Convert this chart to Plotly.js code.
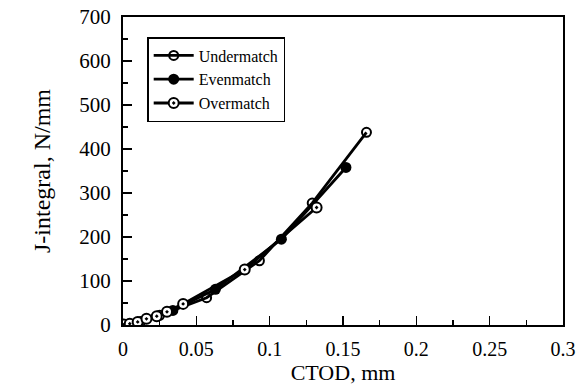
<!DOCTYPE html>
<html>
<head>
<meta charset="utf-8">
<script src="https://cdn.plot.ly/plotly-3.0.1.min.js"></script>
<style>html,body{margin:0;padding:0;background:#fff;}#chart{width:579px;height:385px;}</style>
</head>
<body>
<div id="chart"></div>
<script>
var seriesNames = ["Undermatch", "Evenmatch", "Overmatch"];
var underCTOD = [0, 0.012, 0.025, 0.057, 0.093, 0.129, 0.166];
var underJ    = [0, 8, 22, 62, 146, 277, 438];
var evenCTOD  = [0, 0.034, 0.063, 0.108, 0.152];
var evenJ     = [0, 33, 81, 195, 358];
var overCTOD  = [0.0005, 0.0046, 0.010, 0.016, 0.023, 0.030, 0.041, 0.083, 0.132];
var overJ     = [1, 3, 7, 14, 20, 30, 48, 126, 267];
var xTickVals = [0, 0.05, 0.1, 0.15, 0.2, 0.25, 0.3];
var xTickText = ["0", "0.05", "0.1", "0.15", "0.2", "0.25", "0.3"];
var yTickVals = [0, 100, 200, 300, 400, 500, 600, 700];

var font = "Liberation Serif, Times New Roman, serif";
var traces = [
  {x: underCTOD, y: underJ, name: seriesNames[0], mode: "lines+markers",
   line: {color: "#000", width: 2.8},
   marker: {symbol: "circle-open", size: 9, color: "#000", line: {width: 2, color: "#000"}}},
  {x: evenCTOD, y: evenJ, name: seriesNames[1], mode: "lines+markers",
   line: {color: "#000", width: 2.8},
   marker: {symbol: "circle", size: 11, color: "#000"}},
  {x: overCTOD, y: overJ, name: seriesNames[2], mode: "lines+markers",
   line: {color: "#000", width: 2.8},
   marker: {symbol: "circle-dot", size: 10, color: "#fff", line: {width: 2, color: "#000"}}}
];
var layout = {
  width: 579, height: 385,
  margin: {l: 123, r: 16, t: 17, b: 60},
  paper_bgcolor: "#fff", plot_bgcolor: "#fff",
  font: {family: font, size: 20, color: "#000"},
  showlegend: true,
  legend: {x: 0.055, y: 0.935, xanchor: "left", yanchor: "top",
    bgcolor: "#fff", bordercolor: "#000", borderwidth: 1.5,
    font: {family: font, size: 16, color: "#000"}, tracegroupgap: 0, itemwidth: 40},
  xaxis: {range: [0, 0.3], tickvals: xTickVals, ticktext: xTickText,
    ticks: "inside", ticklen: 9, tickwidth: 1.5, tickcolor: "#000",
    minor: {ticks: "inside", ticklen: 5, tickwidth: 1.5, dtick: 0.025, tickcolor: "#000"},
    showgrid: false, zeroline: false, showline: true, linecolor: "#000", linewidth: 2, mirror: true,
    tickfont: {family: font, size: 20}, ticklabelstandoff: 5, fixedrange: true,
    title: {text: "CTOD, mm", font: {family: font, size: 22}, standoff: 3}},
  yaxis: {range: [0, 700], tickvals: yTickVals,
    ticks: "inside", ticklen: 9, tickwidth: 1.5, tickcolor: "#000",
    minor: {ticks: "inside", ticklen: 5, tickwidth: 1.5, dtick: 50, tickcolor: "#000"},
    showgrid: false, zeroline: false, showline: true, linecolor: "#000", linewidth: 2, mirror: true,
    tickfont: {family: font, size: 21}, ticklabelstandoff: 6, fixedrange: true,
    title: {text: "J-integral, N/mm", font: {family: font, size: 24}, standoff: 22}}
};
Plotly.newPlot("chart", traces, layout, {displayModeBar: false, staticPlot: true});
</script>
</body>
</html>
